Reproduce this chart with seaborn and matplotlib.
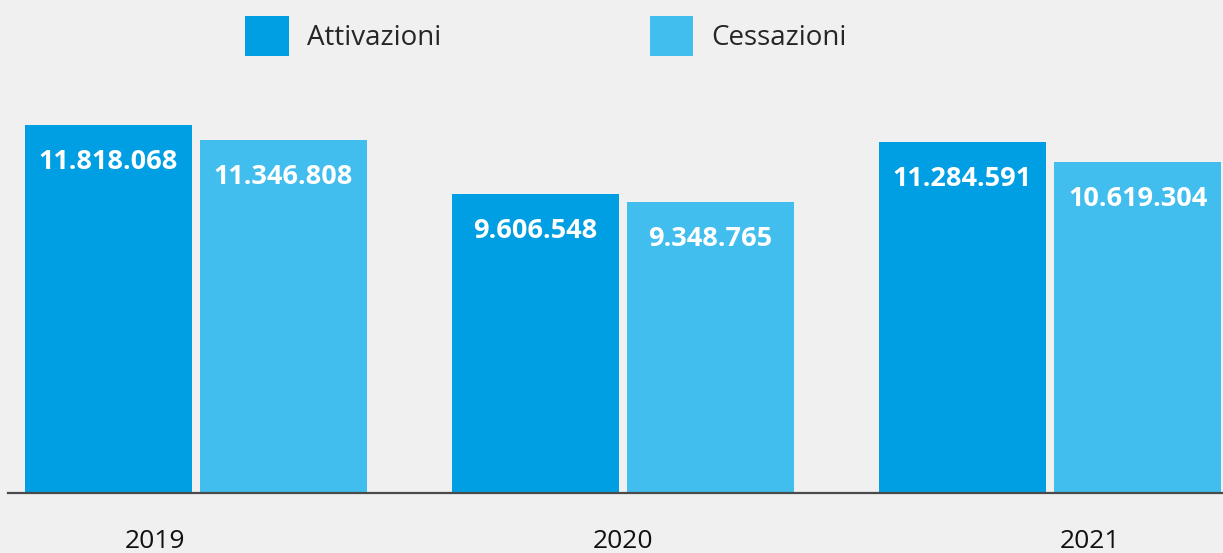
import numpy as np
import pandas as pd
import matplotlib
matplotlib.use("Agg")
import matplotlib.pyplot as plt
import seaborn as sns
from matplotlib.patches import Patch

years = ["2019", "2020", "2021"]
series = ["Attivazioni", "Cessazioni"]
attivazioni = [11818068, 9606548, 11284591]
cessazioni = [11346808, 9348765, 10619304]
colors = ["#009FE3", "#41BEEE"]

df = pd.DataFrame({
    "Anno": years * 2,
    "Serie": [series[0]] * 3 + [series[1]] * 3,
    "Valore": attivazioni + cessazioni,
})

sns.set_theme(style="white")
plt.rcParams["font.family"] = ["Open Sans", "DejaVu Sans"]

fig = plt.figure(figsize=(12.23, 5.53), dpi=100, facecolor="#F0F0F0")
ax = fig.add_axes([8 / 1223, 60 / 553, 1 - 8 / 1223, 493 / 553])
ax.set_facecolor("#F0F0F0")

sns.barplot(
    data=df, x="Anno", y="Valore", hue="Serie",
    palette=colors, width=0.82, gap=0.05,
    saturation=1, legend=False, linewidth=0, ax=ax
)

ax.set_ylim(0, 15.83e6)
ax.set_xlim(-0.44, 2.405)

# value labels inside the bars
for cont in ax.containers:
    for bar in cont:
        h = bar.get_height()
        ax.annotate(
            f"{int(h):,}".replace(",", "."),
            (bar.get_x() + bar.get_width() / 2, h),
            xytext=(0, -37), textcoords="offset pixels",
            ha="center", va="center", color="white",
            fontsize=19.5, fontweight="bold"
        )

# year labels are spread a bit wider than the groups
ax.set_xticks(np.arange(3) * 1.095 - 0.096, labels=years)
ax.tick_params(axis="x", length=0, pad=26, labelsize=19, labelcolor="#111111")
ax.set_yticks([])
ax.set_xlabel("")
ax.set_ylabel("")

for s in ["top", "left", "right"]:
    ax.spines[s].set_visible(False)
ax.spines["bottom"].set_color("#4a4a4a")
ax.spines["bottom"].set_linewidth(1.6)
ax.spines["bottom"].set_zorder(5)

handles = [Patch(facecolor=c, edgecolor="none") for c in colors]
fig.legend(
    handles, series, loc="upper left", bbox_to_anchor=(245 / 1223, 1 - 16 / 553),
    ncol=2, frameon=False, fontsize=20, handlelength=1.58, handleheight=1.85,
    handletextpad=0.65, columnspacing=7.5, borderpad=0, borderaxespad=0
)

fig.savefig("out.png", dpi=100, facecolor=fig.get_facecolor())
